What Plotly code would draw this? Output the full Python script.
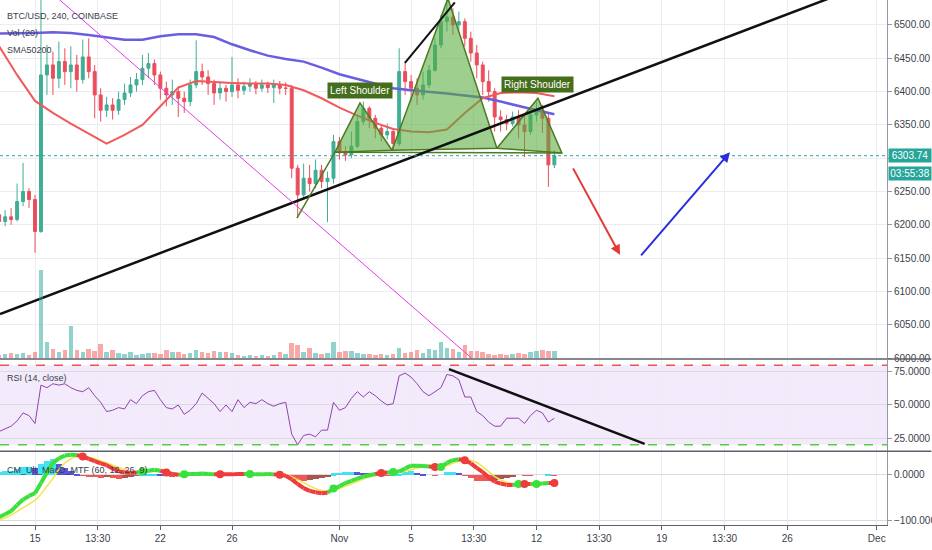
import pandas as pd
import plotly.graph_objects as go

# BTC/USD 8h bars
bar_times = pd.date_range("2018-10-13 00:00", periods=94, freq="8h")
day_times = pd.date_range("2018-10-13", periods=32, freq="D")

first_open = 6215
closes = [
    6205, 6212, 6208, 6235, 6250, 6238, 6190, 6425, 6440, 6420, 6445, 6430,
    6440, 6418, 6452, 6430, 6395, 6372, 6380, 6372, 6388, 6398, 6410, 6418,
    6435, 6442, 6425, 6405, 6395, 6400, 6390, 6385, 6410, 6430, 6422, 6412,
    6398, 6405, 6400, 6410, 6402, 6408, 6412, 6405, 6410, 6406, 6410, 6405,
    6405, 6285, 6245, 6270, 6262, 6282, 6265, 6270, 6325, 6308, 6305, 6318,
    6355, 6375, 6360, 6345, 6335, 6340, 6322, 6430, 6415, 6405, 6395, 6410,
    6432, 6470, 6505, 6512, 6500, 6505, 6480, 6458, 6440, 6415, 6400, 6362,
    6358, 6352, 6362, 6350, 6340, 6365, 6372, 6360, 6290, 6303.74,
]
highs = [
    6218, 6222, 6225, 6262, 6293, 6255, 6245, 6760, 6470, 6460, 6475, 6465,
    6468, 6455, 6478, 6480, 6440, 6405, 6392, 6390, 6400, 6412, 6422, 6428,
    6455, 6458, 6448, 6430, 6415, 6418, 6408, 6400, 6418, 6477, 6442, 6432,
    6418, 6415, 6410, 6452, 6420, 6415, 6420, 6416, 6418, 6415, 6418, 6416,
    6414, 6410, 6290, 6292, 6290, 6298, 6290, 6280, 6335, 6332, 6318, 6340,
    6365, 6385, 6378, 6365, 6350, 6352, 6345, 6465, 6445, 6425, 6420, 6430,
    6440, 6480, 6515, 6537, 6525, 6520, 6510, 6490, 6470, 6445, 6432, 6405,
    6372, 6365, 6370, 6372, 6365, 6375, 6385, 6380, 6368, 6312,
]
lows = [
    6195, 6198, 6200, 6205, 6228, 6225, 6158, 6188, 6395, 6395, 6405, 6410,
    6405, 6400, 6412, 6420, 6360, 6355, 6362, 6358, 6365, 6380, 6392, 6400,
    6410, 6420, 6410, 6388, 6378, 6380, 6362, 6368, 6378, 6405, 6410, 6395,
    6380, 6388, 6385, 6392, 6390, 6395, 6400, 6396, 6400, 6398, 6383, 6396,
    6395, 6270, 6212, 6240, 6250, 6255, 6255, 6204, 6262, 6298, 6296, 6300,
    6315, 6350, 6345, 6330, 6325, 6328, 6312, 6318, 6395, 6385, 6380, 6388,
    6405, 6430, 6465, 6490, 6485, 6492, 6468, 6445, 6420, 6395, 6385, 6340,
    6340, 6342, 6348, 6330, 6302, 6335, 6355, 6338, 6257, 6285,
]
opens = [first_open] + closes[:-1]

volumes = [
    3, 4, 5, 4, 5, 3, 6, 88, 16, 9, 6, 8,
    32, 8, 6, 9, 7, 14, 6, 8, 5, 4, 6, 3,
    4, 5, 5, 4, 8, 6, 6, 4, 5, 8, 6, 5,
    7, 6, 6, 5, 3, 2, 3, 2, 3, 2, 3, 6,
    4, 15, 13, 6, 10, 5, 4, 5, 16, 6, 7, 7,
    5, 4, 4, 3, 4, 3, 4, 10, 5, 6, 8, 5,
    9, 8, 16, 10, 9, 6, 13, 7, 7, 6, 4, 3,
    4, 3, 4, 5, 4, 6, 7, 8, 7, 7,
]

# daily points of the two moving averages
sma_fast = [6468, 6425, 6386, 6368, 6352, 6337, 6322, 6335, 6350, 6378, 6406, 6416,
            6414, 6413, 6412, 6412, 6410, 6402, 6390, 6376, 6364, 6353, 6344, 6340,
            6339, 6343, 6368, 6390, 6398, 6399, 6398, 6393]
sma_slow = [6487, 6487, 6488, 6489, 6488, 6485, 6481, 6478, 6478, 6483, 6486, 6486,
            6482, 6471, 6462, 6454, 6449, 6445, 6436, 6426, 6419, 6412, 6405, 6402,
            6400, 6397, 6394, 6391, 6385, 6378, 6372, 6366]

rsi = [
    30, 32, 34, 38, 44, 42, 36, 65, 63, 66, 65, 66,
    63, 61, 60, 63, 57, 52, 45, 46, 48, 47, 54, 51,
    57, 60, 61, 54, 48, 47, 50, 43, 46, 51, 59, 55,
    51, 45, 50, 45, 54, 48, 52, 51, 54, 51, 49, 51,
    52, 28, 20, 27, 28, 26, 31, 31, 52, 46, 48, 55,
    60, 56, 60, 57, 53, 50, 51, 72, 74, 71, 66, 60,
    57, 60, 63, 73, 72, 69, 56, 56, 45, 42, 37, 34,
    34, 40, 40, 40, 36, 42, 46, 44, 37, 40,
]

macd = [
    -92, -86, -79, -66, -54, -46, -40, -18, 5, 26, 36, 42,
    44, 43, 40, 35, 30, 25, 21, 14, 8, 5, 4, 5,
    7, 9, 11, 9, 5, 2, 0, 1, 2, 2, 3, 2,
    1, 1, 1, 1, 2, 2, 2, 1, 1, 2, 1, 0,
    -2, -10, -20, -29, -35, -38, -40, -39, -30, -25, -18, -13,
    -8, -4, -1, 2, 4, 5, 6, 7, 14, 20, 20, 19,
    18, 17, 17, 26, 32, 34, 32, 25, 15, 6, -6, -15,
    -19, -22, -22, -20, -20, -20, -20, -19, -18, -18,
]
signal = [
    -98, -94, -88, -80, -72, -64, -56, -42, -26, -8, 12, 26,
    35, 40, 41, 39, 35, 31, 26, 21, 16, 11, 7, 6,
    6, 7, 8, 8, 7, 5, 2, 0, 1, 1, 2, 1,
    0, 2, 2, 2, 3, 3, 1, 0, 0, 1, 0, 1,
    0, -4, -10, -17, -24, -30, -34, -36, -34, -30, -25, -20,
    -14, -9, -5, -2, 5, 6, 5, 5, 8, 12, 15, 17,
    18, 18, 17, 20, 25, 29, 33, 32, 27, 18, 6, -4,
    -11, -16, -19, -20, -19, -19, -20, -19, -19, -17,
]

tick_dates = ["2018-10-15", "2018-10-18 12:00", "2018-10-22", "2018-10-26", "2018-11-01",
              "2018-11-05", "2018-11-08 12:00", "2018-11-12", "2018-11-15 12:00",
              "2018-11-19", "2018-11-22 12:00", "2018-11-26", "2018-12-01"]
tick_text = ["15", "13:30", "22", "26", "Nov", "5", "13:30", "12", "13:30", "19", "13:30", "26", "Dec"]

# head & shoulders drawing points
hs_times = ["2018-10-31 18:00", "2018-11-02 03:30", "2018-11-03 22:30", "2018-11-07 01:20",
            "2018-11-09 19:00", "2018-11-12 02:00", "2018-11-13 10:00"]
hs_prices = [6309, 6383, 6312, 6540, 6315, 6390, 6308]

last_price = 6303.74
x_range = ["2018-10-13 01:06", "2018-12-01 13:45"]

UP = "#3fae95"
DOWN = "#eb4d5c"
FONT = "Liberation Sans, Arial, sans-serif"
TXT = "#3a3e4a"

fig = go.Figure()

# volume (overlay axis)
vol_colors = ["rgba(38,166,154,0.5)" if c >= o else "rgba(239,83,80,0.5)" for o, c in zip(opens, closes)]
fig.add_trace(go.Bar(x=bar_times, y=volumes, marker_color=vol_colors, marker_line_width=0,
                     width=8 * 3600 * 1000 * 0.75, xaxis="x", yaxis="y2", hoverinfo="skip"))

# moving averages
fig.add_trace(go.Scatter(x=day_times, y=sma_slow, mode="lines", line=dict(color="#6a5ee0", width=2.5),
                         xaxis="x", yaxis="y", hoverinfo="skip"))
fig.add_trace(go.Scatter(x=day_times, y=sma_fast, mode="lines", line=dict(color="#f05a5a", width=2),
                         xaxis="x", yaxis="y", hoverinfo="skip"))

# head & shoulders triangles
for a, b, c in [(0, 1, 2), (2, 3, 4), (4, 5, 6)]:
    fig.add_trace(go.Scatter(x=[hs_times[a], hs_times[b], hs_times[c], hs_times[a]],
                             y=[hs_prices[a], hs_prices[b], hs_prices[c], hs_prices[a]],
                             mode="lines", fill="toself", fillcolor="rgba(88,172,60,0.58)",
                             line=dict(color="#4d7a22", width=1.5), xaxis="x", yaxis="y", hoverinfo="skip"))
fig.add_trace(go.Scatter(x=[hs_times[0], hs_times[6]], y=[hs_prices[0], hs_prices[6]], mode="lines",
                         line=dict(color="#4d7a22", width=1.5), xaxis="x", yaxis="y", hoverinfo="skip"))

fig.add_trace(go.Candlestick(
    x=bar_times, open=opens, high=highs, low=lows, close=closes,
    increasing=dict(line=dict(color=UP, width=1), fillcolor=UP),
    decreasing=dict(line=dict(color=DOWN, width=1), fillcolor=DOWN),
    xaxis="x", yaxis="y", hoverinfo="skip"))

# hand-drawn lines
drawn_lines = [
    (["2018-10-13 01:06", "2018-11-28 08:20"], [6066, 6540], "#111111", 2.5),
    (["2018-10-16 06:40", "2018-11-08 09:00"], [6540, 6000], "#e33ce8", 1),
    (["2018-11-04 15:45", "2018-11-07 10:40"], [6443, 6534], "#111111", 2),
    (["2018-10-29 15:00", hs_times[0]], [6210, hs_prices[0]], "#4d7a22", 1.5),
]
for xs, ys, col, w in drawn_lines:
    fig.add_trace(go.Scatter(x=xs, y=ys, mode="lines", line=dict(color=col, width=w),
                             xaxis="x", yaxis="y", hoverinfo="skip"))

# RSI
fig.add_trace(go.Scatter(x=bar_times, y=rsi, mode="lines", line=dict(color="#8e44ad", width=1),
                         xaxis="x2", yaxis="y3", hoverinfo="skip"))
fig.add_trace(go.Scatter(x=["2018-11-07 02:45", "2018-11-18 01:00"], y=[77, 20.7], mode="lines",
                         line=dict(color="#111111", width=2.5), xaxis="x2", yaxis="y3", hoverinfo="skip"))

# MACD histogram
hist = [m - s for m, s in zip(macd, signal)]
hist_colors = []
for i, h in enumerate(hist):
    prev = hist[i - 1] if i > 0 else h
    if h >= 0:
        hist_colors.append("#22dff0" if h >= prev else "#3b3bd6")
    else:
        hist_colors.append("#ee3b3b" if h <= prev else "#9a3a2e")
fig.add_trace(go.Bar(x=bar_times, y=hist, marker_color=hist_colors, marker_line_width=0, opacity=0.85,
                     width=8 * 3600 * 1000, xaxis="x3", yaxis="y4", hoverinfo="skip"))
fig.add_trace(go.Scatter(x=bar_times, y=signal, mode="lines", line=dict(color="#f2e64a", width=1.5),
                         xaxis="x3", yaxis="y4", hoverinfo="skip"))

seg = {"#3ce03c": ([], []), "#ee3b3b": ([], [])}
for i in range(1, len(macd)):
    col = "#3ce03c" if hist[i] >= 0 else "#ee3b3b"
    seg[col][0].extend([bar_times[i - 1], bar_times[i], None])
    seg[col][1].extend([macd[i - 1], macd[i], None])
for col, (xs, ys) in seg.items():
    fig.add_trace(go.Scatter(x=xs, y=ys, mode="lines", line=dict(color=col, width=4),
                             xaxis="x3", yaxis="y4", hoverinfo="skip"))

cross_x, cross_y, cross_c = [], [], []
for i in range(1, len(macd)):
    if (hist[i] >= 0) != (hist[i - 1] >= 0):
        cross_x.append(bar_times[i])
        cross_y.append(macd[i])
        cross_c.append("#3ce03c" if hist[i] >= 0 else "#ee3b3b")
fig.add_trace(go.Scatter(x=cross_x, y=cross_y, mode="markers", marker=dict(color=cross_c, size=8),
                         xaxis="x3", yaxis="y4", hoverinfo="skip"))

grid = "#ececf1"
xcommon = dict(range=x_range, type="date", tickvals=tick_dates, ticktext=tick_text,
               showgrid=True, gridcolor=grid, zeroline=False, fixedrange=True, automargin=False)
ycommon = dict(side="right", showgrid=True, gridcolor=grid, zeroline=False, ticks="outside",
               ticklen=4, tickcolor="#9598a1", showline=True, linecolor="#9598a1", automargin=False,
               tickfont=dict(size=10, color=TXT, family=FONT))

fig.update_layout(
    width=932, height=550,
    margin=dict(l=0, r=45, t=0, b=25),
    paper_bgcolor="white", plot_bgcolor="white",
    showlegend=False,
    font=dict(family=FONT, color=TXT),
    bargap=0,
    xaxis=dict(xcommon, anchor="y", showticklabels=False, rangeslider=dict(visible=False)),
    xaxis2=dict(xcommon, anchor="y3", showticklabels=False),
    xaxis3=dict(xcommon, anchor="y4", ticks="outside", ticklen=4, tickcolor="#5d606b",
                showline=True, linecolor="#5d606b", tickfont=dict(size=10, color=TXT, family=FONT)),
    yaxis=dict(ycommon, domain=[0.318, 1], anchor="x", range=[6000, 6537.5],
               tickvals=list(range(6000, 6501, 50)), tickformat=".2f"),
    yaxis2=dict(overlaying="y", range=[0, 358], visible=False, showgrid=False, automargin=False),
    yaxis3=dict(ycommon, domain=[0.1415, 0.314], anchor="x2", range=[15.5, 83.8],
                tickvals=[25, 50, 75], tickformat=".4f", gridcolor="#dadae2"),
    yaxis4=dict(ycommon, domain=[0, 0.1395], anchor="x3", range=[-109.4, 50.3],
                tickvals=[-100, 0], tickformat=".4f", gridcolor="#dadae2"),
)

# RSI band and levels
fig.add_shape(type="rect", xref="paper", yref="y3", x0=0, x1=1, y0=20, y1=80,
              fillcolor="rgba(155,90,220,0.12)", line_width=0, layer="below")
fig.add_shape(type="line", xref="paper", yref="y3", x0=0, x1=1, y0=80, y1=80,
              line=dict(color="#ef5350", width=1.5, dash="dash"))
fig.add_shape(type="line", xref="paper", yref="y3", x0=0, x1=1, y0=20, y1=20,
              line=dict(color="#52d03c", width=1.5, dash="dash"))

# last price line
fig.add_shape(type="line", xref="paper", yref="y", x0=0, x1=1, y0=last_price, y1=last_price,
              line=dict(color="#26a69a", width=1, dash="dot"))

# panel separators
for yy in [0.3162, 0.1404]:
    fig.add_shape(type="line", xref="paper", yref="paper", x0=0, x1=1.05, y0=yy, y1=yy,
                  line=dict(color="#5d606b", width=1.5))

# arrows
fig.add_annotation(x="2018-11-16 16:00", y=6155, ax="2018-11-14 00:00", ay=6287,
                   xref="x", yref="y", axref="x", ayref="y", text="", showarrow=True,
                   arrowhead=2, arrowsize=1, arrowwidth=2, arrowcolor="#e53935")
fig.add_annotation(x="2018-11-22 19:20", y=6309, ax="2018-11-17 18:30", ay=6152,
                   xref="x", yref="y", axref="x", ayref="y", text="", showarrow=True,
                   arrowhead=2, arrowsize=1, arrowwidth=2, arrowcolor="#2a2ee0")

# pattern labels
for t, px, py in [("Left Shoulder", hs_times[1], 6402), ("Right Shoulder", hs_times[5], 6410)]:
    fig.add_annotation(x=px, y=py, xref="x", yref="y", text=t, showarrow=False,
                       bgcolor="#446e1c", borderpad=2, font=dict(size=10, color="white", family=FONT))

# pane titles
for t, yy in [("BTC/USD, 240, COINBASE", 0.9695), ("Vol (20)", 0.937), ("SMA50200", 0.905),
              ("RSI (14, close)", 0.28), ("CM_Ult_MacD_MTF (60, 12, 26, 9)", 0.104)]:
    fig.add_annotation(x=0.006, y=yy, xref="paper", yref="paper", text=t, showarrow=False,
                       xanchor="left", yanchor="middle", font=dict(size=9, color=TXT, family=FONT))

# price tags on the axis
fig.add_annotation(x=1, y=last_price, xref="paper", yref="y", text="6303.74", showarrow=False,
                   xanchor="left", xshift=1, width=42, height=13, borderpad=0, bgcolor="#26a69a",
                   font=dict(size=10, color="white", family=FONT))
fig.add_annotation(x=1, y=last_price - 27, xref="paper", yref="y", text="03:55:38", showarrow=False,
                   xanchor="left", xshift=1, width=42, height=13, borderpad=0, bgcolor="#26a69a",
                   font=dict(size=10, color="white", family=FONT))

fig.write_html("out.html", config={"displayModeBar": False},
               post_script="document.body.style.margin = '0px';")
